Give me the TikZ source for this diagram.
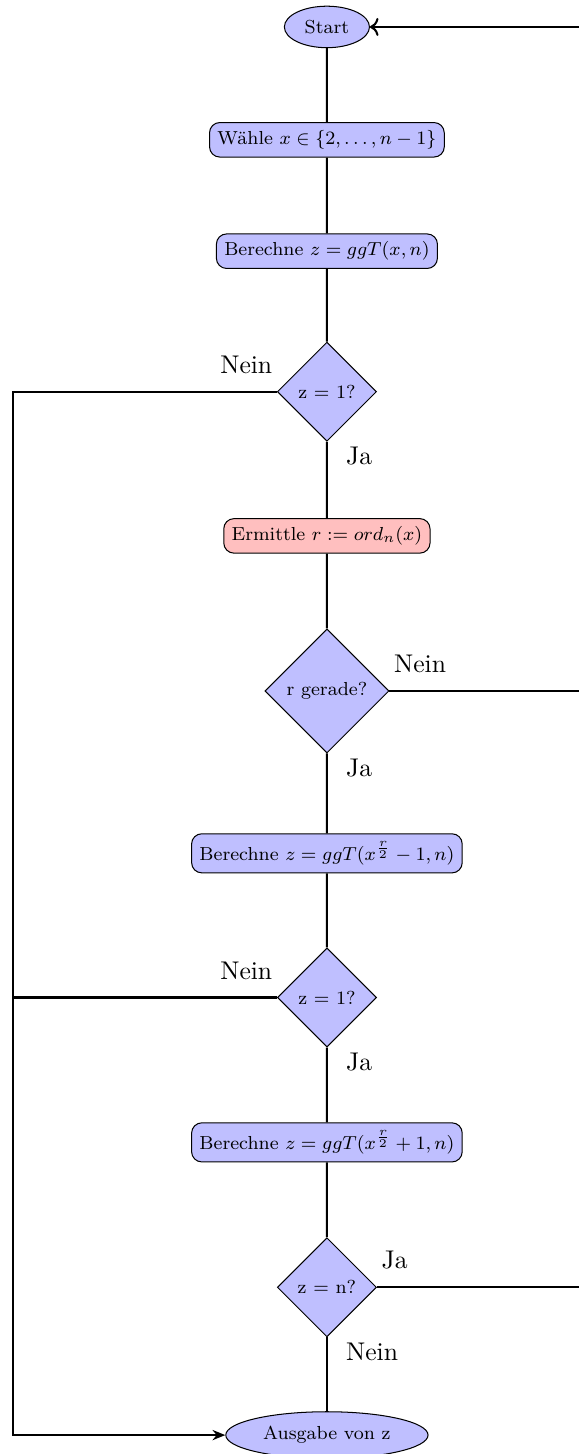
\documentclass[tikz,border=0pt]{standalone}
\usepackage{fontspec}
\usetikzlibrary{shapes.geometric,positioning,arrows.meta}

\tikzset{
	boxfont/.style={font=\footnotesize, scale=0.92, transform shape},
	stepbox/.style={draw, rounded corners, fill=blue!25, boxfont},
	redbox/.style={stepbox, fill=red!25},
	decision/.style={draw, diamond, aspect=1, fill=blue!25, boxfont, inner sep=2.8pt, minimum size=1.48cm},
	terminal/.style={draw, ellipse, fill=blue!25, boxfont},
	flow/.style={thick}
}

\begin{document}
\begin{tikzpicture}

	%all boxes sit on one column at x = \midx
	%the two return lines run at \leftx and \rightx (right one lies past the page edge)

	\def\midx{4.49}
	\def\leftx{0.18}
	\def\rightx{8.3}

	\useasboundingbox (0,0) rectangle (7.95,-19.97);

	%main column
	\node[terminal] (start) at (\midx,-0.37) {Start};
	\node[stepbox] (waehle) at (\midx,-1.92) {Wähle $x \in \{2, \dots, n-1\}$};
	\node[stepbox] (ggt) at (\midx,-3.45) {Berechne $z = ggT(x,n)$};
	\node[decision] (test1) at (\midx,-5.38) {z = 1?};
	\node[redbox] (order) at (\midx,-7.36) {Ermittle $r := ord_n(x)$};
	\node[decision] (even) at (\midx,-9.49) {r gerade?};
	\node[stepbox] (ggtminus) at (\midx,-11.72) {Berechne $z = ggT(x^{\frac{r}{2}}-1,n)$};
	\node[decision] (test2) at (\midx,-13.70) {z = 1?};
	\node[stepbox] (ggtplus) at (\midx,-15.69) {Berechne $z = ggT(x^{\frac{r}{2}}+1,n)$};
	\node[decision] (testn) at (\midx,-17.68) {z = n?};
	\node[terminal] (output) at (\midx,-19.71) {Ausgabe von z};

	%straight connections down the column
	\draw[flow] (start) -- (waehle);
	\draw[flow] (waehle) -- (ggt);
	\draw[flow] (ggt) -- (test1);
	\draw[flow] (test1) -- (order);
	\draw[flow] (order) -- (even);
	\draw[flow] (even) -- (ggtminus);
	\draw[flow] (ggtminus) -- (test2);
	\draw[flow] (test2) -- (ggtplus);
	\draw[flow] (ggtplus) -- (testn);
	\draw[flow] (testn) -- (output);

	%left rail: back down to the output
	\coordinate (leftTop) at (\leftx,-5.38);
	\coordinate (leftMid) at (leftTop |- test2.west);
	\draw[flow, -{Stealth[length=5pt,width=4pt]}] (test1.west) -- (leftTop) |- (output);
	\draw[flow] (test2.west) -- (leftMid);

	%right rail: back up to the start
	\coordinate (rightEven) at (\rightx,-9.49);
	\coordinate (rightN) at (rightEven |- testn.east);
	\draw[flow] (even.east) -- (rightEven);
	\draw[flow, ->] (testn.east) -- (rightN) |- (start);

	%answers at the decisions
	\node[above left=0.12cm and -0.06cm of test1.west] (no1) {Nein};
	\node[below right=-0.05cm and 0.14cm of test1.south] (yes1) {Ja};
	\node[above right=0.13cm and -0.06cm of even.east] (no2) {Nein};
	\node[below right=-0.05cm and 0.14cm of even.south] (yes2) {Ja};
	\node[above left=0.12cm and -0.06cm of test2.west] (no3) {Nein};
	\node[below right=-0.05cm and 0.14cm of test2.south] (yes3) {Ja};
	\node[above right=0.13cm and -0.06cm of testn.east] (yes4) {Ja};
	\node[below right=-0.05cm and 0.14cm of testn.south] (no4) {Nein};

\end{tikzpicture}
\end{document}
